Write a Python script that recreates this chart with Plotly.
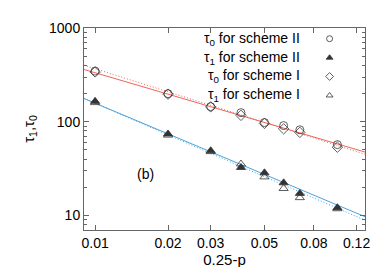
import plotly.graph_objects as go

# ---- data ----
x_vals = [0.01, 0.02, 0.03, 0.04, 0.05, 0.06, 0.07, 0.10]
tau0_II = [347, 199, 145, 125, 98, 91, 82, 57]
tau1_II = [165, 74, 49, 32.5, 28.5, 22.3, 17.2, 12.1]
tau0_I = [340, 197, 144, 117, 96, 84, 77, 53.5]
tau1_I = [160, 72, 48, 35.4, 25.8, 19.4, 15.5, 11.8]

fit_x = [0.009, 0.13]
fit_tau0_II = [361, 47.5]
fit_tau0_I = [401, 45]
fit_tau1_II = [177, 9.7]
fit_tau1_I = [177, 8.9]

x_ticks = [0.01, 0.02, 0.03, 0.05, 0.08, 0.12]
x_ticktext = ["0.01", "0.02", "0.03", "0.05", "0.08", "0.12"]
y_ticks = [10, 100, 1000]
y_ticktext = ["10", "100", "1000"]

legend_labels = ["τ<sub>0</sub> for scheme II", "τ<sub>1</sub> for scheme II",
                 "τ<sub>0</sub> for scheme I", "τ<sub>1</sub> for scheme I"]
legend_rows = [0.947, 0.853, 0.760, 0.666]

RED = "#f0645a"
BLUE = "#4aa3dc"
MK = "#333333"
FONT = "Liberation Sans"

fig = go.Figure()

# fit lines
fig.add_trace(go.Scatter(x=fit_x, y=fit_tau0_II, mode="lines",
                         line=dict(color=RED, width=1)))
fig.add_trace(go.Scatter(x=fit_x, y=fit_tau0_I, mode="lines",
                         line=dict(color=RED, width=1, dash="1px,2px")))
fig.add_trace(go.Scatter(x=fit_x, y=fit_tau1_II, mode="lines",
                         line=dict(color=BLUE, width=1)))
fig.add_trace(go.Scatter(x=fit_x, y=fit_tau1_I, mode="lines",
                         line=dict(color=BLUE, width=1, dash="1px,2px")))

symbols = ["circle-open", "triangle-up", "diamond-open", "triangle-up-open"]
series = [tau0_II, tau1_II, tau0_I, tau1_I]
for s, sym in zip(series, symbols):
    fig.add_trace(go.Scatter(x=x_vals, y=s, mode="markers",
                             marker=dict(symbol=sym, size=8, color=MK,
                                         line=dict(color=MK, width=0.8))))

# legend keys on an overlay axis
for sym, ry in zip(symbols, legend_rows):
    fig.add_trace(go.Scatter(x=[0.874], y=[ry], mode="markers", xaxis="x2", yaxis="y2",
                             marker=dict(symbol=sym, size=6, color=MK,
                                         line=dict(color=MK, width=0.8))))

annotations = []
for lab, ry in zip(legend_labels, legend_rows):
    annotations.append(dict(text=lab, xref="paper", yref="paper", x=0.776, y=ry,
                            xanchor="right", yanchor="middle", showarrow=False,
                            font=dict(family=FONT, size=14, color="black")))
annotations.append(dict(text="(b)", xref="paper", yref="paper", x=0.22, y=0.275,
                        xanchor="center", yanchor="middle", showarrow=False,
                        font=dict(family=FONT, size=14, color="black")))

axis_common = dict(showgrid=False, zeroline=False, showline=True, linecolor="#666666",
                   linewidth=1, mirror="ticks", ticks="inside", ticklen=5,
                   tickcolor="#666666", tickfont=dict(family=FONT, size=14, color="black"))

fig.update_layout(
    width=382, height=267,
    margin=dict(l=76, r=25, t=14, b=45),
    plot_bgcolor="white", paper_bgcolor="white",
    showlegend=False,
    annotations=annotations,
    xaxis=dict(type="log", range=[-2.0458, -0.886], tickvals=x_ticks, ticktext=x_ticktext,
               title=dict(text="0.25-p", font=dict(family=FONT, size=15, color="black"),
                          standoff=0),
               **axis_common),
    yaxis=dict(type="log", range=[0.845, 3.0], tickvals=y_ticks, ticktext=y_ticktext,
               minor=dict(ticks="inside", ticklen=3, tickcolor="#666666",
                          tickvals=[v * m for v in [1, 10, 100] for m in range(2, 10)]),
               title=dict(text="τ<sub>1</sub>,τ<sub>0</sub>",
                          font=dict(family=FONT, size=15, color="black"), standoff=10),
               **axis_common),
    xaxis2=dict(overlaying="x", range=[0, 1], visible=False, anchor="y2"),
    yaxis2=dict(overlaying="y", range=[0, 1], visible=False, anchor="x2"),
)

fig.write_html("out.html")
